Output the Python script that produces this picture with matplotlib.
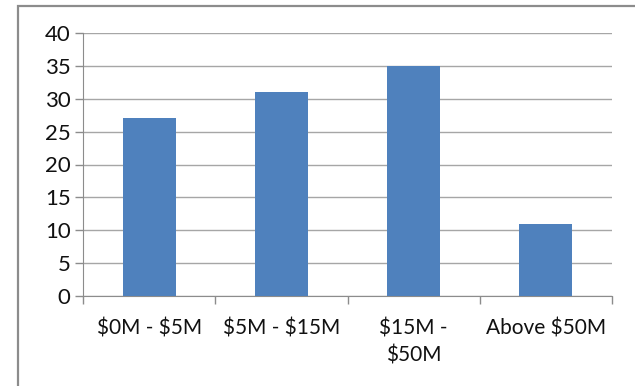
import matplotlib
matplotlib.use("Agg")
import matplotlib.pyplot as plt
from matplotlib.patches import Rectangle
import numpy as np

categories = ["$0M - $5M", "$5M - $15M", "$15M -\n$50M", "Above $50M"]
values = [27, 31, 35, 11]
y_ticks = [0, 5, 10, 15, 20, 25, 30, 35, 40]

plt.rcParams['font.family'] = ['Lato', 'DejaVu Sans']
plt.rcParams['text.parse_math'] = False

fig = plt.figure(figsize=(6.35, 3.86), dpi=100)
fig.patch.set_facecolor("white")

# outer chart border (cropped on right/bottom)
fig.patches.append(Rectangle((18 / 635, -0.1), 1.2, (386 - 6) / 386 + 0.1,
                             transform=fig.transFigure, fill=False,
                             edgecolor="#8c8c8c", linewidth=1.6))

ax = fig.add_axes([83 / 635, (386 - 296) / 386, (612 - 83) / 635, (296 - 33) / 386])

x = np.arange(len(categories))
ax.bar(x, values, width=0.4, color="#4F81BD", zorder=3)

ax.set_xlim(-0.5, len(categories) - 0.5)
ax.set_ylim(0, 40)
ax.set_yticks(y_ticks)
ax.yaxis.grid(True, color="#a6a6a6", linewidth=1.0, zorder=0)

ax.set_xticks(x)
ax.set_xticklabels(categories, fontsize=15, color="#111111", linespacing=1.45)
ax.tick_params(axis="x", which="major", length=0, pad=16)
ax.set_xticks(np.arange(len(categories) + 1) - 0.5, minor=True)
ax.tick_params(axis="x", which="minor", length=6, color="#8c8c8c", width=1)
ax.tick_params(axis="y", length=6, color="#8c8c8c", width=1, labelsize=16,
               labelcolor="#111111", pad=3)

for s in ["top", "right"]:
    ax.spines[s].set_visible(False)
ax.spines["left"].set_color("#8c8c8c")
ax.spines["bottom"].set_color("#8c8c8c")

fig.savefig("out.png", dpi=100, facecolor="white")
